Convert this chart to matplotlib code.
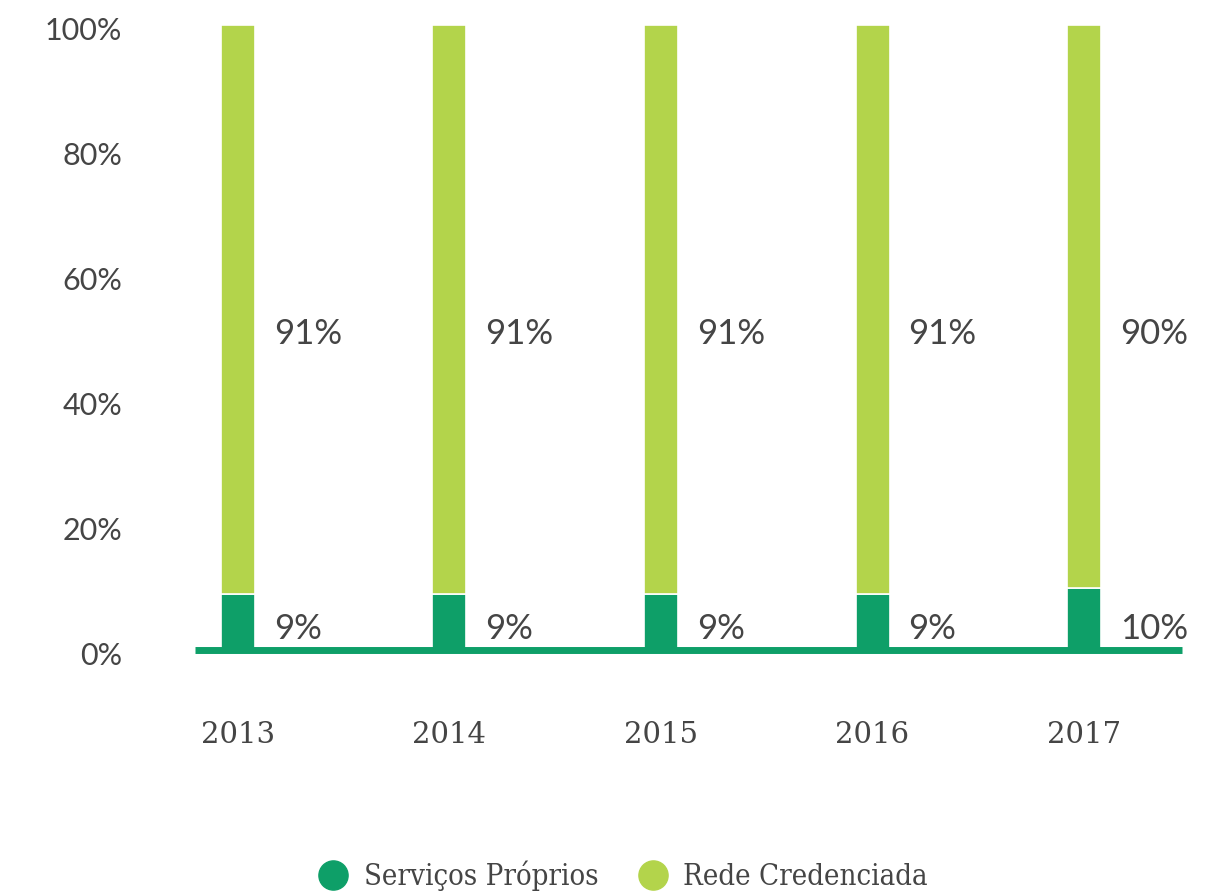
import matplotlib
matplotlib.use("Agg")
import matplotlib.pyplot as plt
from matplotlib.lines import Line2D
from matplotlib.transforms import offset_copy
import numpy as np

years = ["2013", "2014", "2015", "2016", "2017"]
servicos = [9, 9, 9, 9, 10]
rede = [91, 91, 91, 91, 90]
series_names = ["Serviços Próprios", "Rede Credenciada"]
yticks = [0, 20, 40, 60, 80, 100]

dark = "#0e9f68"
light = "#b3d44b"
txt = "#454545"

fig = plt.figure(figsize=(12.29, 8.94), dpi=100)
ax = fig.add_axes([195/1229, (894-650)/894, 987/1229, 625/894])

x = np.arange(len(years))
w = 0.161
ax.bar(x, servicos, width=w, color=dark, edgecolor="white", linewidth=1.2, zorder=2)
ax.bar(x, rede, width=w, bottom=servicos, color=light, edgecolor="white", linewidth=1.2, zorder=2)

ax.set_xlim(-0.203, 4.463)
ax.set_ylim(0, 100)
ax.axhline(0, color=dark, linewidth=5, zorder=3, clip_on=False, solid_capstyle="butt")

for s in ax.spines.values():
    s.set_visible(False)
ax.set_yticks(yticks)
ax.set_yticklabels([])
ax.tick_params(axis="y", length=0)
ytr = offset_copy(ax.get_yaxis_transform(), fig=fig, x=-73, y=-6, units="dots")
for v in yticks:
    ax.text(0, v, f"{v}%", transform=ytr, ha="right", va="center",
            fontfamily="Lato", fontsize=22, color=txt)

ax.set_xticks(x)
ax.set_xticklabels(years, fontfamily="DejaVu Serif", fontsize=21, color=txt)
ax.tick_params(axis="x", length=0, pad=51)

for xi, s, r in zip(x, servicos, rede):
    ax.text(xi + 0.17, 3.3, f"{s}%", fontfamily="Lato", fontsize=25, color=txt, va="center", ha="left")
    ax.text(xi + 0.17, 50.5, f"{r}%", fontfamily="Lato", fontsize=25, color=txt, va="center", ha="left")

handles = [Line2D([], [], marker="o", linestyle="none", markersize=21, markerfacecolor=c, markeredgecolor=c)
           for c in (dark, light)]
leg = fig.legend(handles, series_names, loc="center", bbox_to_anchor=(616/1229, 1 - 876/894),
                 ncol=2, frameon=False, handletextpad=0.05, columnspacing=0.85,
                 prop={"family": "DejaVu Serif", "stretch": "condensed", "size": 21})
for t in leg.get_texts():
    t.set_color(txt)

fig.savefig("out.png", dpi=100)
